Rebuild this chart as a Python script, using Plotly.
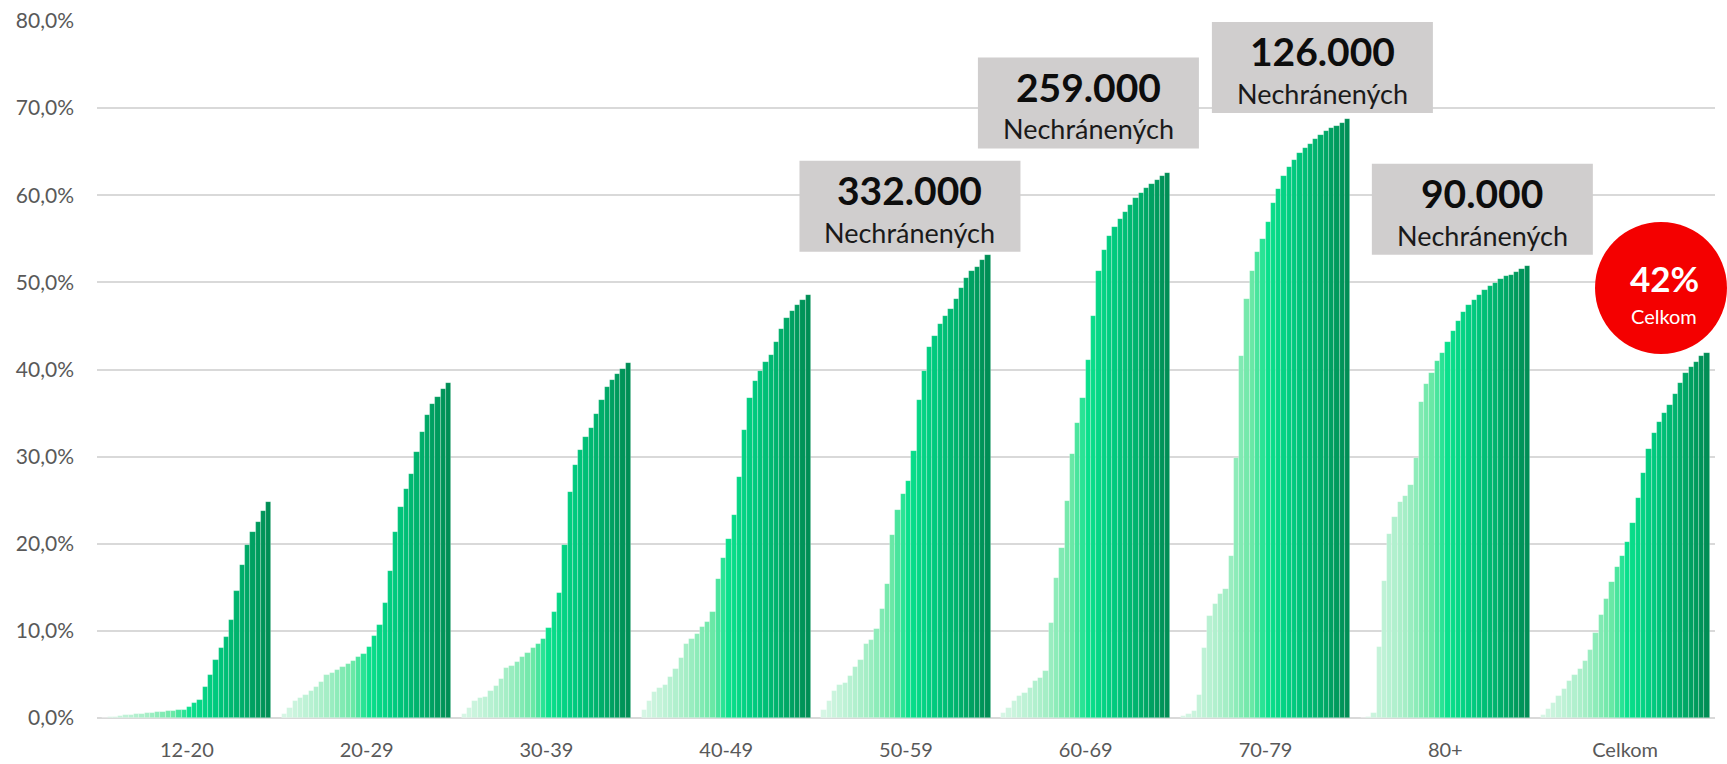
import plotly.graph_objects as go

# ---------------- data ----------------
groups = ["12-20", "20-29", "30-39", "40-49", "50-59", "60-69", "70-79", "80+", "Celkom"]

v_12_20 = [0.03, 0.08, 0.15, 0.22, 0.3, 0.35, 0.42, 0.5, 0.55, 0.6, 0.65, 0.72, 0.8, 0.85, 0.9, 0.95,
           1.3, 1.7, 2.1, 3.55, 4.9, 6.7, 8.0, 9.3, 11.3, 14.6, 17.6, 19.8, 21.3, 22.5, 23.8, 24.76]
v_20_29 = [0.5, 1.2, 1.9, 2.35, 2.6, 3.1, 3.6, 4.15, 4.9, 5.15, 5.5, 5.9, 6.25, 6.6, 7.0, 7.4,
           8.1, 9.45, 10.65, 13.2, 16.9, 21.3, 24.2, 26.3, 28.05, 30.5, 32.8, 34.75, 36.0, 36.9, 37.8, 38.5]
v_30_39 = [0.5, 1.2, 1.95, 2.3, 2.45, 3.05, 3.7, 4.5, 5.7, 6.0, 6.45, 7.0, 7.45, 8.0, 8.55, 9.1,
           10.3, 12.2, 14.35, 19.9, 25.9, 29.0, 30.8, 32.3, 33.3, 34.85, 36.45, 37.95, 38.75, 39.5, 40.1, 40.8]
v_40_49 = [0.9, 1.9, 2.95, 3.5, 3.8, 4.7, 5.65, 6.9, 8.55, 9.05, 9.65, 10.4, 11.05, 12.2, 15.9, 18.35,
           20.6, 23.25, 27.7, 33.05, 36.7, 38.65, 39.8, 40.9, 41.7, 43.1, 44.65, 45.9, 46.75, 47.45, 48.0, 48.55]
v_50_59 = [0.9, 2.0, 3.15, 3.75, 4.05, 4.8, 5.9, 6.7, 8.45, 9.0, 10.2, 12.55, 15.4, 21.0, 23.9, 25.7,
           27.15, 30.65, 36.5, 39.8, 42.6, 43.9, 45.2, 46.1, 46.95, 48.1, 49.4, 50.5, 51.25, 51.8, 52.55, 53.1]
v_60_69 = [0.6, 1.2, 1.9, 2.5, 2.85, 3.4, 4.2, 4.55, 5.35, 10.95, 16.1, 19.5, 24.95, 30.25, 33.9, 36.7,
           41.1, 46.1, 51.25, 53.75, 55.35, 56.4, 57.25, 58.1, 58.9, 59.65, 60.25, 60.85, 61.3, 61.8, 62.25, 62.6]
v_70_79 = [0.18, 0.46, 0.83, 2.67, 8.07, 11.66, 13.14, 14.29, 14.75, 18.63, 29.88, 41.54, 48.13, 51.31, 53.48, 54.96,
           56.98, 59.06, 60.67, 62.19, 63.3, 64.08, 64.82, 65.38, 65.93, 66.44, 66.9, 67.36, 67.68, 68.0, 68.33, 68.7]
v_80 = [0.0, 0.1, 0.55, 8.1, 15.75, 21.1, 23.1, 24.8, 25.5, 26.7, 29.8, 36.3, 38.3, 39.65, 40.95, 41.9,
        43.1, 44.45, 45.6, 46.6, 47.35, 48.0, 48.6, 49.1, 49.55, 49.95, 50.35, 50.7, 50.9, 51.2, 51.5, 51.85]
v_celkom = [0.4, 1.07, 1.77, 2.47, 3.3, 4.25, 4.9, 5.65, 6.55, 7.85, 9.73, 11.84, 13.65, 15.6, 17.36, 18.6,
            20.2, 22.43, 25.24, 28.16, 30.9, 32.66, 33.94, 34.97, 35.96, 37.24, 38.47, 39.59, 40.33, 40.9, 41.57, 41.94]

series = [v_12_20, v_20_29, v_30_39, v_40_49, v_50_59, v_60_69, v_70_79, v_80, v_celkom]

y_ticks = [0, 10, 20, 30, 40, 50, 60, 70, 80]
y_tick_labels = ["0,0%", "10,0%", "20,0%", "30,0%", "40,0%", "50,0%", "60,0%", "70,0%", "80,0%"]

box_groups = ["50-59", "60-69", "70-79", "80+"]
box_numbers = ["332.000", "259.000", "126.000", "90.000"]
box_label = "Nechránených"
total_value = "42%"
total_label = "Celkom"

# ---------------- layout / style ----------------
PERIOD = 34          # slots per group (32 bars + 2 gap)
FONT = "Lato"
ML, MR, MT, MB = 97, 12, 21, 46
W, H = 1727, 764

# colour gradient across the bar index inside each group (style only)
stops = [(0, (214, 246, 229)), (8, (165, 238, 198)), (13, (105, 232, 166)), (16, (10, 224, 140)),
         (21, (0, 202, 126)), (26, (0, 174, 106)), (31, (0, 142, 85))]

def grad(i):
    for (a, ca), (b, cb) in zip(stops[:-1], stops[1:]):
        if a <= i <= b:
            t = (i - a) / (b - a)
            c = [round(ca[k] + (cb[k] - ca[k]) * t) for k in range(3)]
            return "rgb(%d,%d,%d)" % tuple(c)
    return "rgb(%d,%d,%d)" % stops[-1][1]

fig = go.Figure()
for g, vals in enumerate(series):
    fig.add_trace(go.Bar(
        x=[g * PERIOD + i for i in range(len(vals))],
        y=vals,
        width=1,
        marker=dict(color=[grad(i) for i in range(len(vals))],
                    line=dict(color="rgba(255,255,255,0.35)", width=0.7)),
        showlegend=False,
        hoverinfo="skip",
    ))

centers = [g * PERIOD + 15.5 for g in range(len(groups))]

fig.update_layout(
    width=W, height=H, autosize=False,
    margin=dict(l=ML, r=MR, t=MT, b=MB, autoexpand=False),
    plot_bgcolor="white", paper_bgcolor="white",
    bargap=0,
    font=dict(family=FONT, color="#595959", size=20),
    xaxis=dict(range=[-1.5, len(groups) * PERIOD - 2 + 0.5], tickvals=centers, ticktext=groups,
               showgrid=False, zeroline=False, showline=False, ticks="", automargin=False,
               tickfont=dict(size=20, color="#595959", family=FONT), ticklabelstandoff=18),
    yaxis=dict(range=[0, 80], tickvals=y_ticks, ticktext=y_tick_labels,
               showgrid=True, gridcolor="#d9d9d9", gridwidth=1.6,
               zeroline=True, zerolinecolor="#d9d9d9", zerolinewidth=1.6,
               showline=False, ticks="", automargin=False,
               tickfont=dict(size=21, color="#595959", family=FONT), ticklabelstandoff=22),
)

# annotation boxes (positions relative to their group's centre)
box_dx = [0.75, 0.5, 10.75, 7.0]        # in bar slots
box_cy = [58.75, 70.6, 74.67, 58.4]      # in %
BW, BH = 221, 91
for grp, num, dx, cy in zip(box_groups, box_numbers, box_dx, box_cy):
    cx = centers[groups.index(grp)] + dx
    fig.add_shape(type="rect", xref="x", yref="y", xsizemode="pixel", ysizemode="pixel",
                  xanchor=cx, yanchor=cy, x0=-BW / 2, x1=BW / 2, y0=-BH / 2, y1=BH / 2,
                  fillcolor="#d0cece", line=dict(width=0), layer="above")
    fig.add_annotation(x=cx, y=cy, xref="x", yref="y", text="<b>%s</b>" % num, showarrow=False,
                       xanchor="center", yanchor="middle", yshift=16,
                       font=dict(family=FONT, size=39, color="#0d0d0d"))
    fig.add_annotation(x=cx, y=cy, xref="x", yref="y", text=box_label, showarrow=False,
                       xanchor="center", yanchor="middle", yshift=-26,
                       font=dict(family=FONT, size=27, color="#1a1a1a"))

# red total circle (paper coordinates, not clipped)
plot_w, plot_h = W - ML - MR, H - MT - MB
circ_x = (1661 - ML) / plot_w
circ_y = (H - MB - 288) / plot_h
R = 66
fig.add_shape(type="circle", xref="paper", yref="paper", xsizemode="pixel", ysizemode="pixel",
              xanchor=circ_x, yanchor=circ_y, x0=-R, x1=R, y0=-R, y1=R,
              fillcolor="#f40000", line=dict(width=0), layer="above")
fig.add_annotation(x=circ_x, y=circ_y, xref="paper", yref="paper", text="<b>%s</b>" % total_value,
                   showarrow=False, xanchor="center", yanchor="middle", xshift=3, yshift=10,
                   font=dict(family=FONT, size=35, color="white"))
fig.add_annotation(x=circ_x, y=circ_y, xref="paper", yref="paper", text=total_label,
                   showarrow=False, xanchor="center", yanchor="middle", xshift=3, yshift=-28,
                   font=dict(family=FONT, size=20, color="white"))

fig.write_html("out.html", config={"displayModeBar": False},
               post_script="document.body.style.margin='0px';document.body.style.overflow='hidden';")
